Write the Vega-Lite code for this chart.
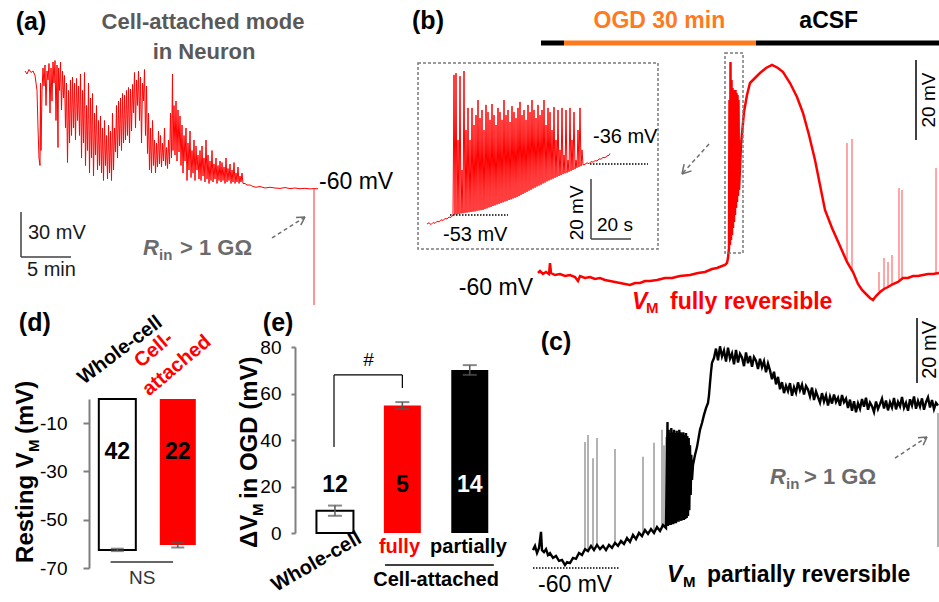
{
"$schema":"https://vega.github.io/schema/vega-lite/v6.json",
"width":939,"height":602,"autosize":{"type":"none"},"padding":0,"background":"#ffffff",
"config":{"view":{"stroke":null},"font":"Liberation Sans","text":{"font":"Liberation Sans"}},
"resolve":{"scale":{"x":"independent","y":"independent"},"axis":{"x":"independent","y":"independent"}},
"datasets":{
"aTrace":[{"t":2.5,"v":18},{"t":2.7,"v":16},{"t":2.9,"v":19},{"t":3.1,"v":17},{"t":3.3,"v":18},{"t":3.5,"v":15},{"t":3.7,"v":5},{"t":3.8,"v":-20},{"t":3.9,"v":-40},{"t":4.0,"v":-45},{"t":4.05,"v":10},{"t":4.1,"v":-35},{"t":4.2,"v":5},{"t":4.3,"v":20},{"t":4.4,"v":8},{"t":4.5,"v":22},{"t":4.6,"v":-5},{"t":4.7,"v":18},{"t":4.8,"v":12},{"t":4.9,"v":23},{"t":5.0,"v":-10},{"t":5.1,"v":20},{"t":5.2,"v":-2},{"t":5.3,"v":24},{"t":5.4,"v":10},{"t":5.5,"v":25},{"t":5.6,"v":-15},{"t":5.7,"v":22},{"t":5.8,"v":-33},{"t":5.85,"v":20},{"t":5.95,"v":5},{"t":6.05,"v":24},{"t":6.15,"v":-8},{"t":6.25,"v":18},{"t":6.35,"v":0},{"t":6.45,"v":15},{"t":6.55,"v":-20},{"t":6.65,"v":10},{"t":6.75,"v":-43},{"t":6.85,"v":5},{"t":6.95,"v":-30},{"t":7.05,"v":12},{"t":7.15,"v":-25},{"t":7.25,"v":14},{"t":7.35,"v":-20},{"t":7.45,"v":10},{"t":7.55,"v":-28},{"t":7.65,"v":13},{"t":7.75,"v":-15},{"t":7.85,"v":8},{"t":7.95,"v":-25},{"t":8.05,"v":16},{"t":8.15,"v":-40},{"t":8.25,"v":5},{"t":8.35,"v":-30},{"t":8.45,"v":17},{"t":8.55,"v":-45},{"t":8.65,"v":-5},{"t":8.75,"v":-35},{"t":8.85,"v":10},{"t":8.95,"v":-50},{"t":9.05,"v":0},{"t":9.15,"v":-40},{"t":9.25,"v":3},{"t":9.35,"v":-52},{"t":9.45,"v":-10},{"t":9.55,"v":-38},{"t":9.65,"v":-5},{"t":9.75,"v":-48},{"t":9.85,"v":-15},{"t":9.95,"v":-45},{"t":10.05,"v":-12},{"t":10.15,"v":-50},{"t":10.25,"v":-20},{"t":10.35,"v":-55},{"t":10.45,"v":-15},{"t":10.55,"v":-45},{"t":10.65,"v":-25},{"t":10.75,"v":-54},{"t":10.85,"v":-18},{"t":10.95,"v":-50},{"t":11.05,"v":-22},{"t":11.15,"v":-55},{"t":11.25,"v":-10},{"t":11.35,"v":-48},{"t":11.45,"v":-20},{"t":11.55,"v":-36},{"t":11.65,"v":-5},{"t":11.75,"v":-40},{"t":11.85,"v":-2},{"t":11.95,"v":-32},{"t":12.05,"v":0},{"t":12.15,"v":-35},{"t":12.25,"v":3},{"t":12.35,"v":-30},{"t":12.45,"v":2},{"t":12.55,"v":-28},{"t":12.65,"v":5},{"t":12.75,"v":-25},{"t":12.85,"v":7},{"t":12.95,"v":-30},{"t":13.05,"v":6},{"t":13.15,"v":-22},{"t":13.25,"v":9},{"t":13.35,"v":-10},{"t":13.45,"v":17},{"t":13.55,"v":-20},{"t":13.65,"v":12},{"t":13.75,"v":-5},{"t":13.85,"v":18},{"t":13.95,"v":-15},{"t":14.05,"v":14},{"t":14.15,"v":-30},{"t":14.25,"v":10},{"t":14.35,"v":-2},{"t":14.45,"v":19},{"t":14.55,"v":-25},{"t":14.65,"v":8},{"t":14.75,"v":-37},{"t":14.85,"v":-10},{"t":14.95,"v":-48},{"t":15.05,"v":-20},{"t":15.15,"v":-50},{"t":15.25,"v":-15},{"t":15.35,"v":-45},{"t":15.45,"v":-28},{"t":15.55,"v":-50},{"t":15.65,"v":-30},{"t":15.75,"v":-46},{"t":15.85,"v":-22},{"t":15.95,"v":-44},{"t":16.05,"v":-25},{"t":16.15,"v":-46},{"t":16.25,"v":-30},{"t":16.35,"v":-42},{"t":16.45,"v":-20},{"t":16.55,"v":-45},{"t":16.65,"v":-33},{"t":16.75,"v":-47},{"t":16.85,"v":-28},{"t":16.95,"v":-44},{"t":17.05,"v":-10},{"t":17.15,"v":-40},{"t":17.25,"v":16},{"t":17.3,"v":-35},{"t":17.4,"v":-5},{"t":17.5,"v":-38},{"t":17.6,"v":-2},{"t":17.7,"v":-42},{"t":17.8,"v":-8},{"t":17.9,"v":-36},{"t":18.0,"v":-12},{"t":18.1,"v":-45},{"t":18.2,"v":-18},{"t":18.3,"v":-50},{"t":18.4,"v":-25},{"t":18.5,"v":-42},{"t":18.6,"v":-20},{"t":18.7,"v":-55},{"t":18.8,"v":-30},{"t":18.9,"v":-48},{"t":19.0,"v":-22},{"t":19.1,"v":-53},{"t":19.2,"v":-35},{"t":19.3,"v":-50},{"t":19.4,"v":-28},{"t":19.5,"v":-55},{"t":19.6,"v":-32},{"t":19.7,"v":-48},{"t":19.8,"v":-38},{"t":19.9,"v":-54},{"t":20.0,"v":-35},{"t":20.1,"v":-55},{"t":20.2,"v":-32},{"t":20.3,"v":-52},{"t":20.4,"v":-40},{"t":20.5,"v":-56},{"t":20.6,"v":-28},{"t":20.7,"v":-54},{"t":20.8,"v":-38},{"t":20.9,"v":-57},{"t":21.0,"v":-42},{"t":21.1,"v":-55},{"t":21.2,"v":-35},{"t":21.3,"v":-56},{"t":21.4,"v":-44},{"t":21.5,"v":-54},{"t":21.6,"v":-40},{"t":21.7,"v":-57},{"t":21.8,"v":-45},{"t":21.9,"v":-55},{"t":22.0,"v":-42},{"t":22.1,"v":-56},{"t":22.2,"v":-43},{"t":22.3,"v":-55},{"t":22.4,"v":-46},{"t":22.5,"v":-57},{"t":22.6,"v":-40},{"t":22.7,"v":-56},{"t":22.8,"v":-47},{"t":22.9,"v":-55},{"t":23.0,"v":-44},{"t":23.1,"v":-57},{"t":23.2,"v":-48},{"t":23.3,"v":-56},{"t":23.4,"v":-43},{"t":23.5,"v":-57},{"t":23.6,"v":-50},{"t":23.7,"v":-56},{"t":23.8,"v":-46},{"t":23.9,"v":-57},{"t":24.0,"v":-52},{"t":24.1,"v":-56},{"t":24.2,"v":-50},{"t":24.3,"v":-57},{"t":24.5,"v":-57},{"t":24.7,"v":-58},{"t":25.0,"v":-58},{"t":25.3,"v":-59},{"t":25.6,"v":-59.5},{"t":26.0,"v":-59},{"t":26.5,"v":-60},{"t":27.0,"v":-59.5},{"t":27.5,"v":-60},{"t":28.0,"v":-60.3},{"t":28.5,"v":-59.7},{"t":29.0,"v":-60.4},{"t":29.5,"v":-60},{"t":30.0,"v":-60.5},{"t":30.5,"v":-60.2},{"t":31.0,"v":-60.6},{"t":31.4,"v":-60.4},{"t":31.8,"v":-60.5}],
"aDrop":[{"t":31.4,"v":-60.3,"v2":-138}],
"aScale":[{"t":2.1,"v":-76,"t2":2.1,"v2":-106},{"t":2.1,"v":-106,"t2":7.1,"v2":-106}],
"aArrow":[{"t":27.2,"v":-93.3,"t2":30.5,"v2":-79.3}],
"aHead":[{"t":29.6,"v":-79.6,"t2":30.5,"v2":-79.3},{"t":30.08,"v":-84.7,"t2":30.5,"v2":-79.3}],
"aPanel":[{"t":3.1,"v":50.7,"label":"(a)"}],
"aTitle":[{"t":20.3,"v":50.7,"label":"Cell-attached mode"},{"t":20.4,"v":30.7,"label":"in Neuron"}],
"aMV":[{"t":31.9,"v":-56,"label":"-60 mV"}],
"aScaleText":[{"t":2.8,"v":-90,"label":"30 mV"},{"t":2.7,"v":-114.7,"label":"5 min"}],
"aR":[{"t":14.3,"v":-100,"label":"R"}],
"aRin":[{"t":15.9,"v":-104.5,"label":"in"}],
"aRval":[{"t":18.0,"v":-100,"label":"> 1 GΩ"}],
"bBarBlack":[{"t":20.96,"v":-2.5,"t2":24.64},{"t":55.36,"v":-2.5,"t2":84.64}],
"bBarOrange":[{"t":24.64,"v":-2.5,"t2":55.36}],
"bTrace":[{"t":20.48,"v":-60},{"t":20.8,"v":-59.5},{"t":21.28,"v":-60.25},{"t":21.76,"v":-59.75},{"t":22.24,"v":-60.25},{"t":22.4,"v":-57.5},{"t":22.56,"v":-60},{"t":23.2,"v":-60.5},{"t":24,"v":-60.25},{"t":24.8,"v":-60.75},{"t":25.6,"v":-60.5},{"t":26.4,"v":-61},{"t":26.88,"v":-62},{"t":27.2,"v":-60.75},{"t":28,"v":-61.25},{"t":28.8,"v":-61},{"t":29.6,"v":-61.5},{"t":30.4,"v":-61.25},{"t":31.2,"v":-61.75},{"t":32,"v":-62},{"t":32.8,"v":-62.25},{"t":33.6,"v":-62.5},{"t":34.4,"v":-62.75},{"t":35.2,"v":-63},{"t":36,"v":-62.5},{"t":36.8,"v":-62.5},{"t":37.6,"v":-62},{"t":38.4,"v":-62},{"t":39.52,"v":-61.75},{"t":40.8,"v":-61.25},{"t":41.92,"v":-61.25},{"t":43.2,"v":-60.75},{"t":44.8,"v":-60.5},{"t":46.08,"v":-60},{"t":47.2,"v":-59.75},{"t":48.32,"v":-59},{"t":49.12,"v":-58.75},{"t":49.92,"v":-58.25},{"t":50.4,"v":-58},{"t":50.72,"v":-57.5},{"t":50.88,"v":-56.25},{"t":51.04,"v":-53.75},{"t":51.12,"v":-16.75},{"t":51.2,"v":-53},{"t":51.28,"v":-7.25},{"t":51.36,"v":-51.75},{"t":51.44,"v":-11.75},{"t":51.52,"v":-50.5},{"t":51.6,"v":-13.75},{"t":51.68,"v":-48.75},{"t":51.76,"v":-14.25},{"t":51.84,"v":-47.25},{"t":51.92,"v":-14.75},{"t":52,"v":-45.5},{"t":52.08,"v":-14.25},{"t":52.16,"v":-43.75},{"t":52.24,"v":-15},{"t":52.32,"v":-42.25},{"t":52.4,"v":-15.5},{"t":52.48,"v":-40.75},{"t":52.56,"v":-16.75},{"t":52.64,"v":-39.25},{"t":52.96,"v":-28},{"t":53.44,"v":-19.75},{"t":53.92,"v":-15.5},{"t":54.4,"v":-12.5},{"t":55.2,"v":-11.25},{"t":56,"v":-10},{"t":56.96,"v":-8.75},{"t":57.92,"v":-8},{"t":58.88,"v":-8.75},{"t":59.68,"v":-9.75},{"t":60.8,"v":-12.5},{"t":61.92,"v":-16},{"t":62.88,"v":-20},{"t":63.84,"v":-25.5},{"t":64.8,"v":-31.75},{"t":65.6,"v":-38},{"t":66.4,"v":-44.25},{"t":67.52,"v":-48.75},{"t":68.8,"v":-53.25},{"t":69.92,"v":-57.25},{"t":70.88,"v":-59.75},{"t":71.68,"v":-62.75},{"t":72.32,"v":-64.25},{"t":72.96,"v":-65.25},{"t":73.6,"v":-66.25},{"t":74.08,"v":-66.75},{"t":74.56,"v":-65.75},{"t":75.2,"v":-64.75},{"t":75.84,"v":-64},{"t":76.48,"v":-63.5},{"t":77.28,"v":-62.75},{"t":78.08,"v":-62.25},{"t":78.88,"v":-61.25},{"t":79.68,"v":-61.25},{"t":80.48,"v":-60.75},{"t":81.28,"v":-60.75},{"t":82.08,"v":-60.5},{"t":82.88,"v":-60.25},{"t":83.68,"v":-60.25},{"t":84.64,"v":-60}],
"bSpikes":[{"t":69.92,"v":-57.25,"v2":-27.5},{"t":70.72,"v":-59.5,"v2":-26.5},{"t":75.04,"v":-64.5,"v2":-59.75},{"t":75.84,"v":-64,"v2":-56.25},{"t":76.48,"v":-63.5,"v2":-57.25},{"t":77.12,"v":-62.75,"v2":-55.5},{"t":78.24,"v":-62,"v2":-38.75},{"t":78.72,"v":-61.5,"v2":-39.25},{"t":84.16,"v":-60.25,"v2":-33.75}],
"bBox":[{"t":50.4,"v":-5,"t2":53.28,"v2":-55}],
"bScale":[{"t":80.96,"v":-6.75,"v2":-26.75}],
"bScaleText":[{"t":83.04,"v":-16.75,"label":"20 mV"}],
"bArrow":[{"t":47.84,"v":-27.75,"t2":43.52,"v2":-35.25}],
"bHead":[{"t":45.04,"v":-34.47,"t2":43.52,"v2":-35.25},{"t":43.86,"v":-32.8,"t2":43.52,"v2":-35.25}],
"bPanel":[{"t":2.88,"v":3,"label":"(b)"}],
"bOGD":[{"t":39.9,"v":3,"label":"OGD 30 min"}],
"bACSF":[{"t":67.0,"v":3,"label":"aCSF"}],
"bMV":[{"t":19.68,"v":-63.75,"label":"-60 mV"}],
"bV":[{"t":35.52,"v":-67.25,"label":"V"}],
"bM":[{"t":37.76,"v":-68.75,"label":"M"}],
"bFully":[{"t":41.6,"v":-67.25,"label":"fully reversible"}],
"iBox":[{"s":4,"v":-2.33,"s2":124,"v2":-64.33}],
"iTrace":[{"s":8.5,"v":-56},{"s":9.5,"v":-55.6},{"s":10.5,"v":-56.2},{"s":11.5,"v":-55.5},{"s":12.5,"v":-55.8},{"s":13.5,"v":-55.1},{"s":14.5,"v":-55.3},{"s":15.5,"v":-54.6},{"s":16.5,"v":-54.8},{"s":17.5,"v":-54.2},{"s":18.5,"v":-54.3},{"s":19.5,"v":-53.7},{"s":20.5,"v":-53.8},{"s":21.5,"v":-53},{"s":22,"v":-6.3},{"s":22.5,"v":-52.9},{"s":23,"v":-5.7},{"s":23.5,"v":-52.8},{"s":24,"v":-28},{"s":24.5,"v":-52.7},{"s":25,"v":-6.7},{"s":25.5,"v":-52.5},{"s":26,"v":-38},{"s":26.5,"v":-52.4},{"s":27,"v":-5},{"s":27.5,"v":-52.3},{"s":28,"v":-24.7},{"s":28.5,"v":-52.2},{"s":29,"v":-17.3},{"s":29.5,"v":-52.1},{"s":30,"v":-28},{"s":30.5,"v":-52},{"s":31,"v":-17.3},{"s":31.5,"v":-51.9},{"s":32,"v":-23},{"s":32.5,"v":-51.8},{"s":33,"v":-19.7},{"s":33.5,"v":-51.6},{"s":34,"v":-14.7},{"s":34.5,"v":-51.5},{"s":35,"v":-20.7},{"s":35.5,"v":-51.4},{"s":36,"v":-18},{"s":36.5,"v":-51.3},{"s":37,"v":-24.7},{"s":37.5,"v":-51},{"s":38,"v":-16.3},{"s":38.5,"v":-50.8},{"s":39,"v":-18.7},{"s":39.5,"v":-50.5},{"s":40,"v":-21.3},{"s":40.5,"v":-50.3},{"s":41,"v":-16},{"s":41.5,"v":-50},{"s":42,"v":-19.7},{"s":42.5,"v":-49.8},{"s":43,"v":-23},{"s":43.5,"v":-49.5},{"s":44,"v":-17.3},{"s":44.5,"v":-49.3},{"s":45,"v":-18.7},{"s":45.5,"v":-49},{"s":46,"v":-21.3},{"s":46.5,"v":-48.8},{"s":47,"v":-14.7},{"s":47.5,"v":-48.5},{"s":48,"v":-19.7},{"s":48.5,"v":-48.3},{"s":49,"v":-18},{"s":49.5,"v":-48},{"s":50,"v":-22},{"s":50.5,"v":-47.8},{"s":51,"v":-16.7},{"s":51.5,"v":-47.5},{"s":52,"v":-18.7},{"s":52.5,"v":-47.3},{"s":53,"v":-20.7},{"s":53.5,"v":-47},{"s":54,"v":-17.3},{"s":54.5,"v":-46.7},{"s":55,"v":-15.3},{"s":55.5,"v":-46.3},{"s":56,"v":-19.7},{"s":56.5,"v":-46},{"s":57,"v":-18},{"s":57.5,"v":-45.6},{"s":58,"v":-21.3},{"s":58.5,"v":-45.3},{"s":59,"v":-16.3},{"s":59.5,"v":-44.9},{"s":60,"v":-18.7},{"s":60.5,"v":-44.6},{"s":61,"v":-14.7},{"s":61.5,"v":-44.2},{"s":62,"v":-18},{"s":62.5,"v":-43.9},{"s":63,"v":-20.7},{"s":63.5,"v":-43.5},{"s":64,"v":-16.3},{"s":64.5,"v":-43.2},{"s":65,"v":-19.7},{"s":65.5,"v":-42.9},{"s":66,"v":-18},{"s":66.5,"v":-42.5},{"s":67,"v":-14.7},{"s":67.5,"v":-42.2},{"s":68,"v":-23},{"s":68.5,"v":-41.8},{"s":69,"v":-17.3},{"s":69.5,"v":-41.5},{"s":70,"v":-18.7},{"s":70.5,"v":-41.2},{"s":71,"v":-24.7},{"s":71.5,"v":-40.9},{"s":72,"v":-17},{"s":72.5,"v":-40.6},{"s":73,"v":-28},{"s":73.5,"v":-40.3},{"s":74,"v":-18},{"s":74.5,"v":-40},{"s":75,"v":-31.3},{"s":75.5,"v":-39.7},{"s":76,"v":-17.3},{"s":76.5,"v":-39.4},{"s":77,"v":-33},{"s":77.5,"v":-39.1},{"s":78,"v":-18},{"s":78.5,"v":-38.9},{"s":79,"v":-34.7},{"s":79.5,"v":-38.6},{"s":80,"v":-17.3},{"s":80.5,"v":-38.3},{"s":81,"v":-28},{"s":81.5,"v":-38},{"s":82,"v":-18.7},{"s":82.5,"v":-37.7},{"s":83,"v":-34.7},{"s":83.5,"v":-37.3},{"s":84,"v":-24.7},{"s":84.5,"v":-37},{"s":85,"v":-17.3},{"s":85.5,"v":-36.7},{"s":86,"v":-31.3},{"s":86.5,"v":-36.3},{"s":87.5,"v":-36.1},{"s":88.5,"v":-35.6},{"s":89.5,"v":-35.9},{"s":90.5,"v":-35.2},{"s":91.5,"v":-35.4},{"s":92.5,"v":-34.9},{"s":93.5,"v":-35},{"s":94.5,"v":-34.3},{"s":95.5,"v":-34.4},{"s":96.5,"v":-33.8},{"s":97.5,"v":-33.9},{"s":98.5,"v":-33.3},{"s":99.5,"v":-33.1},{"s":100,"v":-32.5}],
"iDots":[{"s":20,"v":-53,"s2":49},{"s":90,"v":-36,"s2":119}],
"iScale":[{"s":90.5,"v":-41,"s2":90.5,"v2":-61},{"s":90.5,"v":-61,"s2":110.5,"v2":-61}],
"iMV":[{"s":16.5,"v":-59.7,"label":"-53 mV"},{"s":91.5,"v":-27,"label":"-36 mV"}],
"iSec":[{"s":93.5,"v":-56.3,"label":"20 s"}],
"iMVbar":[{"s":83.5,"v":-52.3,"label":"20 mV"}],
"cTrace":[{"t":1.3,"v":-54.5},{"t":1.5,"v":-53.2},{"t":1.7,"v":-55.4},{"t":1.9,"v":-53.8},{"t":2.1,"v":-48.9},{"t":2.2,"v":-54.5},{"t":2.4,"v":-55.1},{"t":2.6,"v":-54.2},{"t":2.8,"v":-56},{"t":3.0,"v":-55.4},{"t":3.3,"v":-56.9},{"t":3.6,"v":-56.3},{"t":3.9,"v":-57.8},{"t":4.2,"v":-57.5},{"t":4.5,"v":-59.1},{"t":4.7,"v":-58.2},{"t":5.0,"v":-58.5},{"t":5.3,"v":-56.9},{"t":5.6,"v":-57.2},{"t":5.9,"v":-55.4},{"t":6.2,"v":-56},{"t":6.5,"v":-54.2},{"t":6.8,"v":-54.8},{"t":7.1,"v":-53.2},{"t":7.4,"v":-54.5},{"t":7.7,"v":-52.9},{"t":8.0,"v":-54.2},{"t":8.3,"v":-53.2},{"t":8.6,"v":-54.5},{"t":8.9,"v":-52.9},{"t":9.2,"v":-53.8},{"t":9.5,"v":-52.3},{"t":9.8,"v":-53.2},{"t":10.1,"v":-51.7},{"t":10.4,"v":-52.6},{"t":10.7,"v":-50.8},{"t":11.0,"v":-52},{"t":11.3,"v":-49.8},{"t":11.6,"v":-51.1},{"t":11.9,"v":-49.2},{"t":12.2,"v":-50.2},{"t":12.5,"v":-48.3},{"t":12.8,"v":-49.5},{"t":13.1,"v":-48},{"t":13.4,"v":-49.2},{"t":13.7,"v":-47.4},{"t":14.0,"v":-48.6},{"t":14.3,"v":-46.8},{"t":14.6,"v":-47.7},{"t":14.75,"v":-15.1},{"t":14.8,"v":-47.1},{"t":14.87,"v":-17.5},{"t":14.93,"v":-46.8},{"t":15.0,"v":-18.5},{"t":15.07,"v":-46.8},{"t":15.13,"v":-16.9},{"t":15.2,"v":-46.5},{"t":15.27,"v":-18.2},{"t":15.33,"v":-46.5},{"t":15.4,"v":-17.5},{"t":15.47,"v":-46.2},{"t":15.53,"v":-18.5},{"t":15.6,"v":-46.2},{"t":15.67,"v":-17.8},{"t":15.73,"v":-45.8},{"t":15.8,"v":-18.5},{"t":15.87,"v":-45.8},{"t":15.93,"v":-17.5},{"t":16.0,"v":-45.5},{"t":16.07,"v":-18.2},{"t":16.13,"v":-45.5},{"t":16.2,"v":-18.8},{"t":16.27,"v":-45.2},{"t":16.33,"v":-18.2},{"t":16.4,"v":-45.2},{"t":16.47,"v":-19.1},{"t":16.53,"v":-44.9},{"t":16.6,"v":-18.5},{"t":16.67,"v":-44.6},{"t":16.73,"v":-19.4},{"t":16.8,"v":-44},{"t":16.87,"v":-20},{"t":16.93,"v":-42.2},{"t":17.0,"v":-22.2},{"t":17.07,"v":-37.5},{"t":17.13,"v":-25.2},{"t":17.2,"v":-32.9},{"t":17.3,"v":-28.3},{"t":17.5,"v":-25.2},{"t":17.7,"v":-22.8},{"t":18.0,"v":-17.5},{"t":18.2,"v":-15.4},{"t":18.4,"v":-12.9},{"t":18.6,"v":-10.8},{"t":18.8,"v":-9.2},{"t":18.9,"v":-6.8},{"t":19.0,"v":-3.1},{"t":19.1,"v":0.3},{"t":19.2,"v":3.1},{"t":19.4,"v":4.6},{"t":19.6,"v":7.5},{"t":19.8,"v":3.9},{"t":20.0,"v":8.2},{"t":20.2,"v":5.1},{"t":20.4,"v":6.9},{"t":20.6,"v":3.5},{"t":20.8,"v":7.8},{"t":21.0,"v":4.4},{"t":21.2,"v":6.0},{"t":21.4,"v":2.7},{"t":21.6,"v":7.1},{"t":21.8,"v":3.2},{"t":22.0,"v":5.9},{"t":22.2,"v":4.8},{"t":22.4,"v":2.1},{"t":22.6,"v":6.3},{"t":22.8,"v":3.0},{"t":23.0,"v":5.2},{"t":23.2,"v":1.9},{"t":23.4,"v":4.9},{"t":23.6,"v":3.8},{"t":23.8,"v":1.2},{"t":24.0,"v":4.4},{"t":24.2,"v":1.8},{"t":24.4,"v":3.6},{"t":24.6,"v":0.2},{"t":24.8,"v":2.9},{"t":25.0,"v":0.8},{"t":25.2,"v":-1.9},{"t":25.4,"v":0.4},{"t":25.6,"v":-3.5},{"t":25.8,"v":-1.2},{"t":26.0,"v":-5.0},{"t":26.2,"v":-2.8},{"t":26.4,"v":-6.2},{"t":26.6,"v":-3.9},{"t":26.8,"v":-5.6},{"t":27.0,"v":-3.1},{"t":27.2,"v":-7.0},{"t":27.4,"v":-4.4},{"t":27.6,"v":-6.1},{"t":27.8,"v":-2.9},{"t":28.0,"v":-5.3},{"t":28.2,"v":-3.6},{"t":28.4,"v":-6.6},{"t":28.6,"v":-4.0},{"t":28.8,"v":-5.1},{"t":29.0,"v":-7.2},{"t":29.2,"v":-4.5},{"t":29.4,"v":-8.3},{"t":29.6,"v":-5.7},{"t":29.8,"v":-7.4},{"t":30.0,"v":-9.1},{"t":30.2,"v":-6.2},{"t":30.4,"v":-8.8},{"t":30.6,"v":-6.9},{"t":30.8,"v":-10.0},{"t":31.0,"v":-7.3},{"t":31.2,"v":-9.4},{"t":31.4,"v":-6.6},{"t":31.6,"v":-8.9},{"t":31.8,"v":-7.6},{"t":32.0,"v":-10.1},{"t":32.2,"v":-6.8},{"t":32.4,"v":-9.0},{"t":32.6,"v":-7.9},{"t":32.8,"v":-10.8},{"t":33.0,"v":-8.2},{"t":33.2,"v":-11.6},{"t":33.4,"v":-8.7},{"t":33.6,"v":-12.1},{"t":33.8,"v":-9.3},{"t":34.0,"v":-11.0},{"t":34.2,"v":-8.0},{"t":34.4,"v":-10.4},{"t":34.6,"v":-7.6},{"t":34.8,"v":-11.3},{"t":35.0,"v":-9.1},{"t":35.2,"v":-10.2},{"t":35.4,"v":-12.0},{"t":35.6,"v":-8.8},{"t":35.8,"v":-11.1},{"t":36.0,"v":-9.6},{"t":36.2,"v":-7.9},{"t":36.4,"v":-10.9},{"t":36.6,"v":-8.5},{"t":36.8,"v":-11.5},{"t":37.0,"v":-9.0},{"t":37.2,"v":-10.6},{"t":37.4,"v":-7.7},{"t":37.6,"v":-11.2},{"t":37.8,"v":-8.9},{"t":38.0,"v":-10.3},{"t":38.2,"v":-7.4},{"t":38.4,"v":-10.7},{"t":38.6,"v":-9.2},{"t":38.8,"v":-11.6},{"t":39.0,"v":-8.1},{"t":39.2,"v":-10.0},{"t":39.4,"v":-7.2},{"t":39.6,"v":-11.0},{"t":39.8,"v":-8.6},{"t":40.0,"v":-10.4},{"t":40.2,"v":-7.8},{"t":40.4,"v":-11.3},{"t":40.6,"v":-9.0},{"t":40.8,"v":-7.5},{"t":41.0,"v":-10.6},{"t":41.2,"v":-8.3},{"t":41.4,"v":-11.1},{"t":41.6,"v":-9.2},{"t":41.8,"v":-10.0}],
"cSpikes":[{"t":6.5,"v":-54.2,"v2":-21.2},{"t":6.8,"v":-54.8,"v2":-19.1},{"t":7.3,"v":-54.2,"v2":-26.2},{"t":7.7,"v":-52.9,"v2":-20},{"t":9.5,"v":-52.3,"v2":-23.4},{"t":12.3,"v":-49.8,"v2":-25.8},{"t":13.4,"v":-49.2,"v2":-21.5},{"t":14.2,"v":-47.7,"v2":-17.5},{"t":14.4,"v":-47.4,"v2":-22.2},{"t":14.6,"v":-47.4,"v2":-19.7},{"t":41.8,"v":-12.3,"v2":-53.5}],
"cDots":[{"t":1.3,"v":-60,"t2":10.0}],
"cScale":[{"t":39.7,"v":16.9,"v2":-3.1}],
"cScaleText":[{"t":41.0,"v":7.1,"label":"20 mV"}],
"cPanel":[{"t":3.6,"v":9.5,"label":"(c)"}],
"cR":[{"t":25.0,"v":-32,"label":"R"}],
"cRin":[{"t":26.6,"v":-34.2,"label":"in"}],
"cRval":[{"t":28.4,"v":-32,"label":"> 1 GΩ"}],
"cArrow":[{"t":37.5,"v":-26.2,"t2":40.7,"v2":-19.7}],
"cHead":[{"t":39.8,"v":-19.9,"t2":40.7,"v2":-19.7},{"t":40.32,"v":-22.2,"t2":40.7,"v2":-19.7}],
"cV":[{"t":14.7,"v":-62.2,"label":"V"}],
"cM":[{"t":16.3,"v":-64.3,"label":"M"}],
"cPart":[{"t":18.7,"v":-62.2,"label":"partially reversible"}],
"cMV":[{"t":1.8,"v":-65.2,"label":"-60 mV"}],
"dWhite":[{"idx":1,"v":-62.5}],
"dRed":[{"idx":2,"v":-60.5}],
"dErr":[{"idx":1,"v":-63,"v2":-62},{"idx":2,"v":-61.5,"v2":-59.5}],
"dCaps":[{"idx":1,"v":-63},{"idx":1,"v":-62},{"idx":2,"v":-61.5},{"idx":2,"v":-59.5}],
"dNum":[{"idx":1,"v":-22,"label":"42"},{"idx":2,"v":-22,"label":"22"}],
"dNS":[{"idx":0.889,"v":-67.5,"idx2":1.921}],
"dNSText":[{"idx":1.413,"v":-74.1,"label":"NS"}],
"dCatBlack":[{"idx":0.444,"v":5.8,"label":"Whole-cell"}],
"dCatRed":[{"idx":1.392,"v":12.7,"label":"Cell-"},{"idx":1.524,"v":1.0,"label":"attached"}],
"dPanel":[{"idx":-0.365,"v":31.5,"label":"(d)"}],
"dTitle":[{"idx":-0.508,"v":-67.9,"label":"Resting V"},{"idx":-0.508,"v":-14.5,"label":"(mV)"}],
"dTitleSub":[{"idx":-0.381,"v":-21.95,"label":"M"}],
"eWhite":[{"idx":1,"v":9.6}],
"eRed":[{"idx":2,"v":54.8}],
"eBlack":[{"idx":3,"v":70.1}],
"eErr":[{"idx":1,"v":7.4,"v2":11.8},{"idx":2,"v":53.3,"v2":56.3},{"idx":3,"v":68,"v2":72.2}],
"eCaps":[{"idx":1,"v":7.4},{"idx":1,"v":11.8},{"idx":2,"v":53.3},{"idx":2,"v":56.3},{"idx":3,"v":68},{"idx":3,"v":72.2}],
"eNum":[{"idx":1,"v":20.6,"label":"12"},{"idx":2,"v":20.6,"label":"5"}],
"eNumW":[{"idx":3,"v":20.6,"label":"14"}],
"eBracket":[{"idx":0.986,"v":37,"idx2":0.986,"v2":68},{"idx":0.986,"v":68,"idx2":2,"v2":68},{"idx":2,"v":68,"idx2":2,"v2":62.4}],
"eHash":[{"idx":1.5,"v":74.4,"label":"#"}],
"eFully":[{"idx":1.957,"v":-6,"label":"fully"}],
"ePart":[{"idx":2.98,"v":-6,"label":"partially"}],
"eLine":[{"idx":1.743,"v":-13.8,"idx2":3.357}],
"eCA":[{"idx":2.5,"v":-20.2,"label":"Cell-attached"}],
"eWhole":[{"idx":0.129,"v":-25.4,"label":"Whole-cell"}],
"ePanel":[{"idx":0.157,"v":90.3,"label":"(e)"}],
"eTitle":[{"idx":-0.257,"v":-6.45,"label":"ΔV"},{"idx":-0.257,"v":14.6,"label":"in OGD (mV)"}],
"eTitleSub":[{"idx":-0.143,"v":7.3,"label":"M"}]
},
"layer":[
{"encoding":{
 "x":{"field":"t","type":"quantitative","scale":{"domain":[0,41],"range":[0,410],"nice":false,"zero":false},"axis":null},
 "y":{"field":"v","type":"quantitative","scale":{"domain":[-141.33,65.33],"range":[310,0],"nice":false,"zero":false},"axis":null}},
 "layer":[
 {"data":{"name":"aTrace"},"mark":{"type":"line","color":"#ff0000","strokeWidth":1}},
 {"data":{"name":"aDrop"},"mark":{"type":"rule","color":"#ff2a2a","strokeWidth":1},"encoding":{"y2":{"field":"v2"}}},
 {"data":{"name":"aScale"},"mark":{"type":"rule","color":"#404040","strokeWidth":1.5},"encoding":{"x2":{"field":"t2"},"y2":{"field":"v2"}}},
 {"data":{"name":"aArrow"},"mark":{"type":"rule","color":"#6e6e6e","strokeWidth":1.5,"strokeDash":[4,3]},"encoding":{"x2":{"field":"t2"},"y2":{"field":"v2"}}},
 {"data":{"name":"aHead"},"mark":{"type":"rule","color":"#6e6e6e","strokeWidth":1.5},"encoding":{"x2":{"field":"t2"},"y2":{"field":"v2"}}},
 {"data":{"name":"aPanel"},"mark":{"type":"text","fontSize":25,"fontWeight":"bold","fill":"#000000"},"encoding":{"text":{"field":"label"}}},
 {"data":{"name":"aTitle"},"mark":{"type":"text","fontSize":22,"fontWeight":"bold","fill":"#595959"},"encoding":{"text":{"field":"label"}}},
 {"data":{"name":"aMV"},"mark":{"type":"text","fontSize":23,"align":"left","fill":"#000000"},"encoding":{"text":{"field":"label"}}},
 {"data":{"name":"aScaleText"},"mark":{"type":"text","fontSize":20,"align":"left","fill":"#1a1a1a"},"encoding":{"text":{"field":"label"}}},
 {"data":{"name":"aR"},"mark":{"type":"text","fontSize":22,"fontWeight":"bold","fontStyle":"italic","align":"left","fill":"#6b6b6b"},"encoding":{"text":{"field":"label"}}},
 {"data":{"name":"aRin"},"mark":{"type":"text","fontSize":15,"fontWeight":"bold","align":"left","fill":"#6b6b6b"},"encoding":{"text":{"field":"label"}}},
 {"data":{"name":"aRval"},"mark":{"type":"text","fontSize":22,"fontWeight":"bold","align":"left","fill":"#6b6b6b"},"encoding":{"text":{"field":"label"}}}
 ]},
{"encoding":{
 "x":{"field":"t","type":"quantitative","scale":{"domain":[0,84.64],"range":[410,939],"nice":false,"zero":false},"axis":null},
 "y":{"field":"v","type":"quantitative","scale":{"domain":[-69.25,8.25],"range":[310,0],"nice":false,"zero":false},"axis":null}},
 "layer":[
 {"data":{"name":"bBarBlack"},"mark":{"type":"rule","color":"#000000","strokeWidth":5,"strokeCap":"butt"},"encoding":{"x2":{"field":"t2"}}},
 {"data":{"name":"bBarOrange"},"mark":{"type":"rule","color":"#ff7a1f","strokeWidth":5,"strokeCap":"butt"},"encoding":{"x2":{"field":"t2"}}},
 {"data":{"name":"bSpikes"},"mark":{"type":"rule","color":"#ff0000","strokeWidth":1,"opacity":0.7},"encoding":{"y2":{"field":"v2"}}},
 {"data":{"name":"bTrace"},"mark":{"type":"line","color":"#ff0000","strokeWidth":2.5}},
 {"data":{"name":"bBox"},"mark":{"type":"rect","filled":false,"color":"#7a7a7a","strokeWidth":1.5,"strokeDash":[3,2]},"encoding":{"x2":{"field":"t2"},"y2":{"field":"v2"}}},
 {"data":{"name":"bScale"},"mark":{"type":"rule","color":"#000000","strokeWidth":1.5},"encoding":{"y2":{"field":"v2"}}},
 {"data":{"name":"bScaleText"},"mark":{"type":"text","fontSize":19,"angle":270,"fill":"#000000"},"encoding":{"text":{"field":"label"}}},
 {"data":{"name":"bArrow"},"mark":{"type":"rule","color":"#6e6e6e","strokeWidth":1.5,"strokeDash":[4,3]},"encoding":{"x2":{"field":"t2"},"y2":{"field":"v2"}}},
 {"data":{"name":"bHead"},"mark":{"type":"rule","color":"#6e6e6e","strokeWidth":1.5},"encoding":{"x2":{"field":"t2"},"y2":{"field":"v2"}}},
 {"data":{"name":"bPanel"},"mark":{"type":"text","fontSize":25,"fontWeight":"bold","fill":"#000000"},"encoding":{"text":{"field":"label"}}},
 {"data":{"name":"bOGD"},"mark":{"type":"text","fontSize":23,"fontWeight":"bold","fill":"#ff7a1f"},"encoding":{"text":{"field":"label"}}},
 {"data":{"name":"bACSF"},"mark":{"type":"text","fontSize":23,"fontWeight":"bold","fill":"#000000"},"encoding":{"text":{"field":"label"}}},
 {"data":{"name":"bMV"},"mark":{"type":"text","fontSize":23,"align":"right","fill":"#000000"},"encoding":{"text":{"field":"label"}}},
 {"data":{"name":"bV"},"mark":{"type":"text","fontSize":23,"fontWeight":"bold","fontStyle":"italic","align":"left","fill":"#ff0000"},"encoding":{"text":{"field":"label"}}},
 {"data":{"name":"bM"},"mark":{"type":"text","fontSize":15,"fontWeight":"bold","align":"left","fill":"#ff0000"},"encoding":{"text":{"field":"label"}}},
 {"data":{"name":"bFully"},"mark":{"type":"text","fontSize":23,"fontWeight":"bold","align":"left","fill":"#ff0000"},"encoding":{"text":{"field":"label"}}}
 ]},
{"encoding":{
 "x":{"field":"s","type":"quantitative","scale":{"domain":[0,264.5],"range":[410,939],"nice":false,"zero":false},"axis":null},
 "y":{"field":"v","type":"quantitative","scale":{"domain":[-84.67,18.67],"range":[310,0],"nice":false,"zero":false},"axis":null}},
 "layer":[
 {"data":{"name":"iBox"},"mark":{"type":"rect","filled":false,"color":"#7a7a7a","strokeWidth":1.5,"strokeDash":[3,2]},"encoding":{"x2":{"field":"s2"},"y2":{"field":"v2"}}},
 {"data":{"name":"iTrace"},"mark":{"type":"line","color":"#ff0000","strokeWidth":1}},
 {"data":{"name":"iDots"},"mark":{"type":"rule","color":"#000000","strokeWidth":1.5,"strokeDash":[1.5,1.5]},"encoding":{"x2":{"field":"s2"}}},
 {"data":{"name":"iScale"},"mark":{"type":"rule","color":"#404040","strokeWidth":1.5},"encoding":{"x2":{"field":"s2"},"y2":{"field":"v2"}}},
 {"data":{"name":"iMV"},"mark":{"type":"text","fontSize":20,"align":"left","fill":"#000000"},"encoding":{"text":{"field":"label"}}},
 {"data":{"name":"iSec"},"mark":{"type":"text","fontSize":19,"align":"left","fill":"#000000"},"encoding":{"text":{"field":"label"}}},
 {"data":{"name":"iMVbar"},"mark":{"type":"text","fontSize":19,"angle":270,"fill":"#000000"},"encoding":{"text":{"field":"label"}}}
 ]},
{"encoding":{
 "x":{"field":"t","type":"quantitative","scale":{"domain":[0,41.9],"range":[520,939],"nice":false,"zero":false},"axis":null},
 "y":{"field":"v","type":"quantitative","scale":{"domain":[-70.46,19.38],"range":[602,310],"nice":false,"zero":false},"axis":null}},
 "layer":[
 {"data":{"name":"cSpikes"},"mark":{"type":"rule","color":"#808080","strokeWidth":1.2},"encoding":{"y2":{"field":"v2"}}},
 {"data":{"name":"cTrace"},"mark":{"type":"line","color":"#000000","strokeWidth":2.4}},
 {"data":{"name":"cDots"},"mark":{"type":"rule","color":"#000000","strokeWidth":1.5,"strokeDash":[1.5,1.5]},"encoding":{"x2":{"field":"t2"}}},
 {"data":{"name":"cScale"},"mark":{"type":"rule","color":"#000000","strokeWidth":1.5},"encoding":{"y2":{"field":"v2"}}},
 {"data":{"name":"cScaleText"},"mark":{"type":"text","fontSize":20,"angle":270,"fill":"#000000"},"encoding":{"text":{"field":"label"}}},
 {"data":{"name":"cArrow"},"mark":{"type":"rule","color":"#6e6e6e","strokeWidth":1.5,"strokeDash":[4,3]},"encoding":{"x2":{"field":"t2"},"y2":{"field":"v2"}}},
 {"data":{"name":"cHead"},"mark":{"type":"rule","color":"#6e6e6e","strokeWidth":1.5},"encoding":{"x2":{"field":"t2"},"y2":{"field":"v2"}}},
 {"data":{"name":"cPanel"},"mark":{"type":"text","fontSize":25,"fontWeight":"bold","fill":"#000000"},"encoding":{"text":{"field":"label"}}},
 {"data":{"name":"cR"},"mark":{"type":"text","fontSize":22,"fontWeight":"bold","fontStyle":"italic","align":"left","fill":"#6b6b6b"},"encoding":{"text":{"field":"label"}}},
 {"data":{"name":"cRin"},"mark":{"type":"text","fontSize":15,"fontWeight":"bold","align":"left","fill":"#6b6b6b"},"encoding":{"text":{"field":"label"}}},
 {"data":{"name":"cRval"},"mark":{"type":"text","fontSize":22,"fontWeight":"bold","align":"left","fill":"#6b6b6b"},"encoding":{"text":{"field":"label"}}},
 {"data":{"name":"cV"},"mark":{"type":"text","fontSize":23,"fontWeight":"bold","fontStyle":"italic","align":"left","fill":"#000000"},"encoding":{"text":{"field":"label"}}},
 {"data":{"name":"cM"},"mark":{"type":"text","fontSize":15,"fontWeight":"bold","align":"left","fill":"#000000"},"encoding":{"text":{"field":"label"}}},
 {"data":{"name":"cPart"},"mark":{"type":"text","fontSize":23,"fontWeight":"bold","align":"left","fill":"#000000"},"encoding":{"text":{"field":"label"}}},
 {"data":{"name":"cMV"},"mark":{"type":"text","fontSize":23,"align":"left","fill":"#000000"},"encoding":{"text":{"field":"label"}}}
 ]},
{"encoding":{
 "x":{"field":"idx","type":"quantitative","scale":{"domain":[-0.857,3.111],"range":[0,250],"nice":false,"zero":false},"axis":null},
 "y":{"field":"v","type":"quantitative","scale":{"domain":[-70,0],"range":[568,399],"nice":false,"zero":false},
  "axis":{"orient":"left","offset":-89,"values":[-10,-30,-50,-70],"title":null,"grid":false,"domainColor":"#7f7f7f","domainWidth":2,"tickColor":"#7f7f7f","tickWidth":2,"tickSize":6,"labelFont":"Liberation Sans","labelFontSize":19,"labelColor":"#000000","labelPadding":16,"labelExpr":"datum.value + ''"}}},
 "layer":[
 {"data":{"name":"dWhite"},"mark":{"type":"bar","width":37,"fill":"#ffffff","stroke":"#000000","strokeWidth":2},"encoding":{"y2":{"datum":0}}},
 {"data":{"name":"dRed"},"mark":{"type":"bar","width":36,"fill":"#ff0000"},"encoding":{"y2":{"datum":0}}},
 {"data":{"name":"dErr"},"mark":{"type":"rule","color":"#555555","strokeWidth":1.5},"encoding":{"y2":{"field":"v2"}}},
 {"data":{"name":"dCaps"},"mark":{"type":"tick","orient":"horizontal","size":13,"thickness":2,"color":"#555555"}},
 {"data":{"name":"dNum"},"mark":{"type":"text","fontSize":23,"fontWeight":"bold","fill":"#000000"},"encoding":{"text":{"field":"label"}}},
 {"data":{"name":"dNS"},"mark":{"type":"rule","color":"#333333","strokeWidth":1.5},"encoding":{"x2":{"field":"idx2"}}},
 {"data":{"name":"dNSText"},"mark":{"type":"text","fontSize":19,"fill":"#333333"},"encoding":{"text":{"field":"label"}}},
 {"data":{"name":"dCatBlack"},"mark":{"type":"text","fontSize":20,"fontWeight":"bold","angle":323,"align":"left","baseline":"alphabetic","fill":"#000000"},"encoding":{"text":{"field":"label"}}},
 {"data":{"name":"dCatRed"},"mark":{"type":"text","fontSize":20,"fontWeight":"bold","angle":320,"align":"left","baseline":"alphabetic","fill":"#ff0000"},"encoding":{"text":{"field":"label"}}},
 {"data":{"name":"dPanel"},"mark":{"type":"text","fontSize":25,"fontWeight":"bold","fill":"#000000"},"encoding":{"text":{"field":"label"}}},
 {"data":{"name":"dTitle"},"mark":{"type":"text","fontSize":24,"fontWeight":"bold","angle":270,"align":"left","baseline":"middle","fill":"#000000"},"encoding":{"text":{"field":"label"}}},
 {"data":{"name":"dTitleSub"},"mark":{"type":"text","fontSize":15,"fontWeight":"bold","angle":270,"align":"left","baseline":"middle","fill":"#000000"},"encoding":{"text":{"field":"label"}}}
 ]},
{"encoding":{
 "x":{"field":"idx","type":"quantitative","scale":{"domain":[-0.186,3.671],"range":[250,520],"nice":false,"zero":false},"axis":null},
 "y":{"field":"v","type":"quantitative","scale":{"domain":[0,80],"range":[533,347],"nice":false,"zero":false},
  "axis":{"orient":"left","offset":-295,"values":[0,20,40,60,80],"title":null,"grid":false,"domainColor":"#7f7f7f","domainWidth":2,"tickColor":"#7f7f7f","tickWidth":2,"tickSize":4,"labelFont":"Liberation Sans","labelFontSize":19,"labelColor":"#000000","labelPadding":10,"labelExpr":"datum.value + ''"}}},
 "layer":[
 {"data":{"name":"eWhite"},"mark":{"type":"bar","width":37,"fill":"#ffffff","stroke":"#000000","strokeWidth":2},"encoding":{"y2":{"datum":0}}},
 {"data":{"name":"eRed"},"mark":{"type":"bar","width":37,"fill":"#ff0000"},"encoding":{"y2":{"datum":0}}},
 {"data":{"name":"eBlack"},"mark":{"type":"bar","width":37,"fill":"#000000"},"encoding":{"y2":{"datum":0}}},
 {"data":{"name":"eErr"},"mark":{"type":"rule","color":"#555555","strokeWidth":1.5},"encoding":{"y2":{"field":"v2"}}},
 {"data":{"name":"eCaps"},"mark":{"type":"tick","orient":"horizontal","size":14,"thickness":2,"color":"#555555"}},
 {"data":{"name":"eNum"},"mark":{"type":"text","fontSize":23,"fontWeight":"bold","fill":"#000000"},"encoding":{"text":{"field":"label"}}},
 {"data":{"name":"eNumW"},"mark":{"type":"text","fontSize":23,"fontWeight":"bold","fill":"#ffffff"},"encoding":{"text":{"field":"label"}}},
 {"data":{"name":"eBracket"},"mark":{"type":"rule","color":"#000000","strokeWidth":1.2},"encoding":{"x2":{"field":"idx2"},"y2":{"field":"v2"}}},
 {"data":{"name":"eHash"},"mark":{"type":"text","fontSize":19,"fill":"#000000"},"encoding":{"text":{"field":"label"}}},
 {"data":{"name":"eFully"},"mark":{"type":"text","fontSize":20,"fontWeight":"bold","fill":"#ff0000"},"encoding":{"text":{"field":"label"}}},
 {"data":{"name":"ePart"},"mark":{"type":"text","fontSize":20,"fontWeight":"bold","fill":"#000000"},"encoding":{"text":{"field":"label"}}},
 {"data":{"name":"eLine"},"mark":{"type":"rule","color":"#000000","strokeWidth":1.5},"encoding":{"x2":{"field":"idx2"}}},
 {"data":{"name":"eCA"},"mark":{"type":"text","fontSize":20,"fontWeight":"bold","fill":"#000000"},"encoding":{"text":{"field":"label"}}},
 {"data":{"name":"eWhole"},"mark":{"type":"text","fontSize":20,"fontWeight":"bold","angle":330,"align":"left","baseline":"alphabetic","fill":"#000000"},"encoding":{"text":{"field":"label"}}},
 {"data":{"name":"ePanel"},"mark":{"type":"text","fontSize":25,"fontWeight":"bold","fill":"#000000"},"encoding":{"text":{"field":"label"}}},
 {"data":{"name":"eTitle"},"mark":{"type":"text","fontSize":24,"fontWeight":"bold","angle":270,"align":"left","baseline":"middle","fill":"#000000"},"encoding":{"text":{"field":"label"}}},
 {"data":{"name":"eTitleSub"},"mark":{"type":"text","fontSize":15,"fontWeight":"bold","angle":270,"align":"left","baseline":"middle","fill":"#000000"},"encoding":{"text":{"field":"label"}}}
 ]}
]
}
